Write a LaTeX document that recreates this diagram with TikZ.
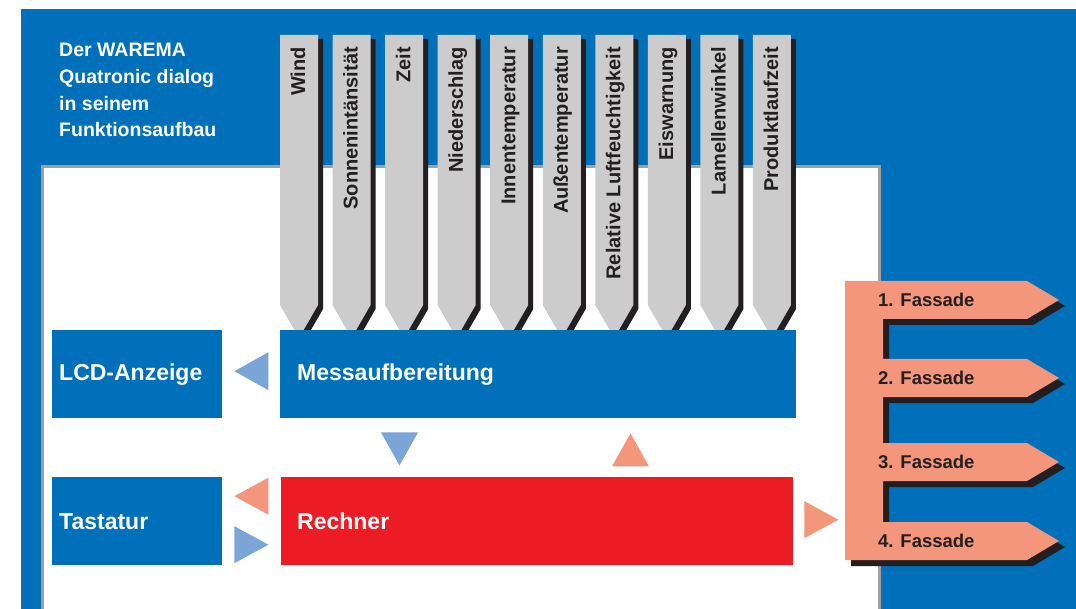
\documentclass[tikz,border=0pt]{standalone}
\usepackage{fontspec}
\setmainfont{Liberation Sans}
\usetikzlibrary{calc, positioning}

\definecolor{wablau}{RGB}{0,112,186}
\definecolor{hellblau}{RGB}{123,164,216}
\definecolor{lachs}{RGB}{244,150,124}
\definecolor{rechnerrot}{RGB}{237,28,36}
\definecolor{sensorgrau}{RGB}{204,204,204}
\definecolor{schatten}{RGB}{35,31,32}
\definecolor{rahmengrau}{RGB}{160,160,160}

\tikzset{
	every node/.style={
		font=\bfseries
	},
	block/.style={
		shape=rectangle,
		fill=wablau,
		text=white,
		minimum height=88pt,
		inner ysep=0pt,
		align=left,
		anchor=north west,
		font=\fontsize{23}{27}\selectfont\bfseries
	},
	titel/.style={
		text=white,
		align=left,
		inner sep=0pt,
		anchor=north west,
		font=\fontsize{19.5}{26.7}\selectfont\bfseries
	},
	sensortext/.style={
		text=schatten,
		rotate=90,
		anchor=east,
		inner sep=0pt,
		text height=14.3pt,
		text depth=0pt,
		font=\fontsize{20}{24}\selectfont\bfseries
	},
	fassadetext/.style={
		text=schatten,
		anchor=west,
		inner sep=0pt,
		font=\fontsize{18.5}{22}\selectfont\bfseries
	}
}

% E-Form der Fassadenausgaenge
\newcommand{\fassadenform}[1]{%
	\fill[#1] (845,281) -- (1027,281) -- (1059,300) -- (1027,319) -- (883,319)
		-- (883,359) -- (1027,359) -- (1059,378) -- (1027,397) -- (883,397)
		-- (883,443) -- (1027,443) -- (1059,462) -- (1027,481) -- (883,481)
		-- (883,522) -- (1027,522) -- (1059,541) -- (1027,560) -- (845,560) -- cycle;
}

\begin{document}
\begin{tikzpicture}[x=1pt, y=-1pt]
	\useasboundingbox (0,0) rectangle (1076,609);
	
	\fill[wablau] (21,9) rectangle (1076,609);
	\fill[white] (42.5,166.5) rectangle (879.5,609);
	\draw[rahmengrau, line width=3pt] (42.5,612) -- (42.5,166.5) -- (879.5,166.5) -- (879.5,612);
	
	\node[titel] (titel) at (59,43) {Der WAREMA\\Quatronic dialog\\in seinem\\Funktionsaufbau};
	
	\foreach \lbl [count=\i from 0] in {Wind,Sonnenintänsität,Zeit,Niederschlag,Innentemperatur,Außentemperatur,Relative Luftfeuchtigkeit,Eiswarnung,Lamellenwinkel,Produktlaufzeit} {
		\pgfmathsetmacro{\x}{280+52.55*\i}
		\fill[schatten] (\x+5,39) -- ++(38,0) -- ++(0,270) -- ++(-19,33) -- ++(-19,-33) -- cycle;
		\fill[sensorgrau] (\x,35) -- ++(38,0) -- ++(0,270) -- ++(-19,33) -- ++(-19,-33) -- cycle;
		\node[sensortext] (s\i) at (\x+18,47) {\lbl};
	}
	
	\node[block, inner xsep=7pt, text width=156pt] (lcd) at (52,330) {LCD-Anzeige};
	\node[block, inner xsep=17pt, text width=482pt] (mess) at (280,330) {Messaufbereitung};
	\node[block, inner xsep=7pt, text width=156pt] (tast) at (52,477) {Tastatur};
	\node[block, fill=rechnerrot, inner xsep=16pt, text width=480pt] (rech) at (281,477) {Rechner};
	
	\fill[hellblau] ($(lcd.east)+(12,-3)$) -- ++(34,-19) -- ++(0,38) -- cycle;
	\fill[lachs] ($(tast.east)+(12,-25)$) -- ++(34,-18.5) -- ++(0,37) -- cycle;
	\fill[hellblau] ($(tast.east)+(12,5)$) -- ++(34,18.5) -- ++(-34,18.5) -- cycle;
	\fill[hellblau] ($(mess.south west)+(101,14)$) -- ++(37,0) -- ++(-18.5,33) -- cycle;
	\fill[lachs] ($(mess.south west)+(332,48)$) -- ++(37,0) -- ++(-18.5,-33) -- cycle;
	\fill[lachs] ($(rech.east)+(11,-20)$) -- ++(0,37) -- ++(34,-18.5) -- cycle;
	
	\fassadenform{schatten, shift={(6,6)}}
	\fassadenform{lachs}
	\foreach \y [count=\n] in {300,378,462,541} {
		\node[fassadetext] (f\n) at (878,\y) {\n. Fassade};
	}
	
\end{tikzpicture}
\end{document}
